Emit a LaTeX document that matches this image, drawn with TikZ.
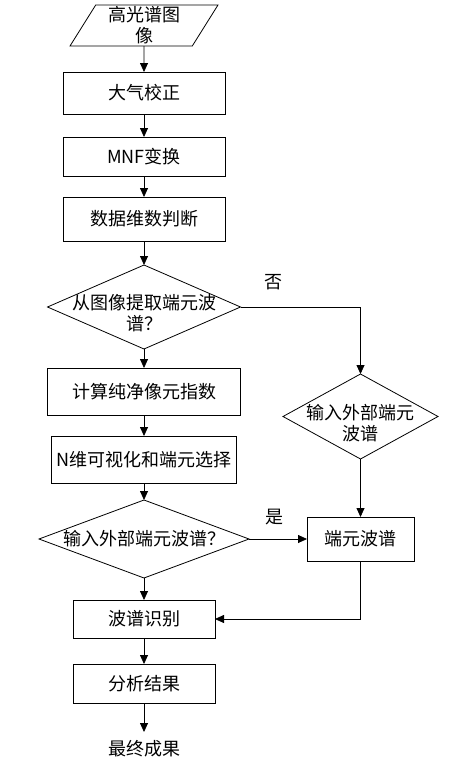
\documentclass[tikz,border=0pt]{standalone}
\usepackage{fontspec}
\setmainfont{Noto Sans CJK SC}
\usetikzlibrary{positioning,shapes.geometric,arrows.meta}

\begin{document}
\begin{tikzpicture}[x=1pt,y=-1pt,
every node/.style = {font=\fontsize{18}{21}\selectfont, outer sep=0pt},
box/.style = {draw, line width=0.8pt, rectangle, inner sep=0pt},
decision/.style = {draw, line width=0.8pt, diamond, inner sep=0pt},
inout/.style = {draw, line width=0.8pt, trapezium, trapezium left angle=63, trapezium right angle=117, trapezium stretches=true, inner sep=0pt, align=center},
arr/.style = {line width=0.8pt, -{Triangle[width=8pt,length=9pt]}}]
\useasboundingbox (0,0) rectangle (448,768);

\node [inout, minimum width=148pt, minimum height=41pt] (img) at (144,25.5) {高光谱图\\像};
\node [box, below = 26pt of img, minimum width=162pt, minimum height=42pt] (atmos) {大气校正};
\node [box, below = 23pt of atmos, minimum width=162pt, minimum height=39pt] (mnf) {MNF变换};
\node [box, below = 21pt of mnf, minimum width=162pt, minimum height=44pt] (dim) {数据维数判断};
\node [decision, below = 24pt of dim, minimum width=193pt, minimum height=84pt,
  label={[align=center, yshift=-6pt]center:{从图像提取端元波\\谱？}}] (ask) {};
\node [box, below = 19pt of ask, minimum width=193pt, minimum height=47pt] (ppi) {计算纯净像元指数};
\node [box, below = 21pt of ppi, minimum width=185pt, minimum height=47pt] (ndv) {N维可视化和端元选择};
\node [decision, below = 17pt of ndv, minimum width=210pt, minimum height=78pt,
  label={center:输入外部端元波谱？}] (askext) {};
\node [box, below = 22pt of askext, minimum width=142pt, minimum height=38pt] (ident) {波谱识别};
\node [box, below = 26pt of ident, minimum width=142pt, minimum height=39pt] (result) {分析结果};
\node [below = 29pt of result, minimum height=34pt, inner sep=0pt] (final) {最终成果};
\node [box, right = 58pt of askext, minimum width=107pt, minimum height=44pt] (spec) {端元波谱};
\node [decision, above = 58pt of spec, minimum width=155pt, minimum height=85pt,
  label={[align=center, yshift=-6.5pt]center:{输入外部端元\\波谱}}] (ext) {};
\node (no) at (273,282) {否};
\node (yes) at (274,517) {是};

\draw [arr] (img) -- (atmos);
\draw [arr] (atmos) -- (mnf);
\draw [arr] (mnf) -- (dim);
\draw [arr] (dim) -- (ask);
\draw [arr] (ask) -- (ppi);
\draw [arr] (ppi) -- (ndv);
\draw [arr] (ndv) -- (askext);
\draw [arr] (askext) -- (ident);
\draw [arr] (ident) -- (result);
\draw [arr] (result) -- (final);
\draw [arr] (ask.east) -| (ext.north);
\draw [arr] (ext) -- (spec);
\draw [arr] (askext.east) -- (spec.west);
\draw [arr] (spec.south) |- (ident.east);
\end{tikzpicture}
\end{document}
